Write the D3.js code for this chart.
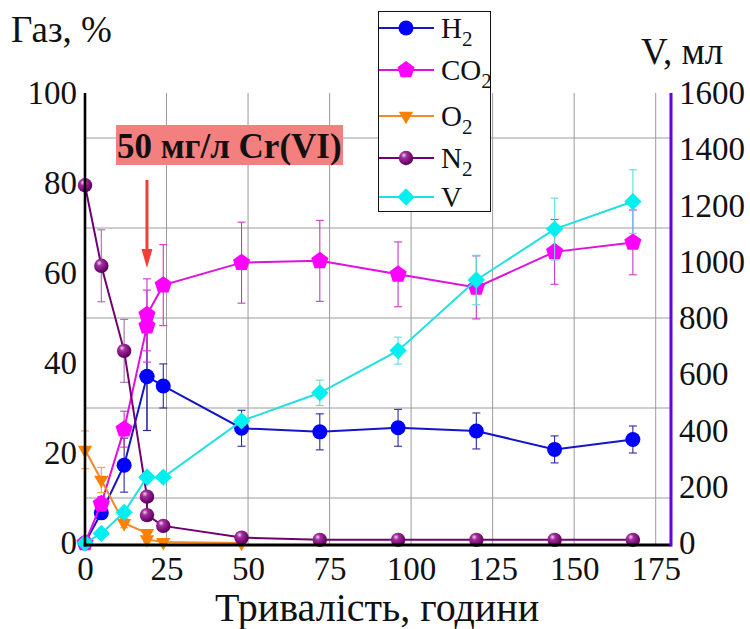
<!DOCTYPE html>
<html>
<head>
<meta charset="utf-8">
<script src="https://cdn.jsdelivr.net/npm/d3@7"></script>
<style>
  html, body { margin: 0; padding: 0; background: #fff; }
  svg { display: block; font-family: "Liberation Serif", "DejaVu Serif", serif; }
</style>
</head>
<body>
<svg id="chart" width="750" height="629"></svg>
<script>
// Sampling times, hours (two samples at 19 h: before and after the Cr(VI) dose)
const times = [0, 5, 12, 19, 19, 24, 48, 72, 96, 120, 144, 168];

// Gas composition, % (null = not measured)
const h2 = [0, 6.7, 17.3, 37.0, 37.0, 34.9, 25.5, 24.7, 25.6, 24.9, 20.8, 23.0];
const h2Err = [0, 1.2, 6, 12, 12, 4.9, 4, 4, 4.1, 4, 3, 3];
const co2 = [0, 8.7, 25.3, 48.2, 50.7, 57.3, 62.3, 62.7, 59.7, 56.8, 64.7, 66.8];
const co2Err = [0, 1.6, 4, 8, 8, 9, 9, 9, 7.2, 7, 7.2, 7.2];
const o2 = [20.7, 14.0, 4.4, 2.2, 0.8, 0.2, 0, null, null, null, null, null];
const o2Err = [4.2, 2.8, 1, 0.8, 0.5, 0, 0, 0, 0, 0, 0, 0];
const n2 = [79.5, 61.6, 42.7, 10.3, 6.2, 3.8, 1.2, 0.7, 0.7, 0.7, 0.7, 0.7];
const n2Err = [0, 8, 7, 1, 1, 0.5, 0.3, 0.3, 0.3, 0.3, 0.3, 0.3];

// Cumulative gas volume, ml
const vol = [0, 34, 109, 234, 234, 234, 434, 534, 684, 935, 1116, 1214];
const volErr = [0, 5, 10, 15, 15, 15, 15, 45, 48, 88, 110, 113];

// Axis ticks
const xTicks = [0, 25, 50, 75, 100, 125, 150, 175];
const xGrid = [25, 50, 75, 100, 125, 150, 175];
const yLeftTicks = [0, 20, 40, 60, 80, 100];
const yGrid = [10, 30, 50, 70, 90];
const yRightTicks = [0, 200, 400, 600, 800, 1000, 1200, 1400, 1600];

const doseTime = 19;
const doseLabel = "50 мг/л Cr(VI)";

const serif = "'Liberation Serif', 'DejaVu Serif', serif";
const svg = d3.select("#chart");

const x = d3.scaleLinear().domain([0, 180]).range([85, 672]);
const yL = d3.scaleLinear().domain([0, 100]).range([543, 93]);
const yR = d3.scaleLinear().domain([0, 1600]).range([543, 93]);

const plotLeft = x(0), plotRight = 671, plotTop = 93, plotBottom = 545;

// sphere gradient for the N2 markers
const defs = svg.append("defs");
const grad = defs.append("radialGradient").attr("id", "sphere")
  .attr("cx", "38%").attr("cy", "35%").attr("r", "65%").attr("fx", "35%").attr("fy", "30%");
grad.append("stop").attr("offset", "0%").attr("stop-color", "#f4d4f0");
grad.append("stop").attr("offset", "30%").attr("stop-color", "#a0309a");
grad.append("stop").attr("offset", "75%").attr("stop-color", "#7a0a78");
grad.append("stop").attr("offset", "100%").attr("stop-color", "#560056");

// grid
const grid = svg.append("g");
grid.selectAll("line.vg").data(xGrid).join("line")
  .attr("x1", d => x(d)).attr("x2", d => x(d))
  .attr("y1", plotTop).attr("y2", plotBottom)
  .attr("stroke", "#9c9c9c").attr("stroke-width", 1);
grid.selectAll("line.hg").data(yGrid).join("line")
  .attr("x1", plotLeft).attr("x2", plotRight)
  .attr("y1", d => yL(d)).attr("y2", d => yL(d))
  .attr("stroke", "#9c9c9c").attr("stroke-width", 1);

// marker shapes
function pentagonPath(r) {
  const pts = d3.range(5).map(i => {
    const a = -Math.PI / 2 + i * 2 * Math.PI / 5;
    return [r * Math.cos(a), r * Math.sin(a)];
  });
  return "M" + pts.map(p => p.join(",")).join("L") + "Z";
}
const markers = {
  circle: sel => sel.append("circle").attr("r", 7.5),
  pentagon: sel => sel.append("path").attr("d", pentagonPath(9)),
  triangle: sel => sel.append("path").attr("d", d3.symbol(d3.symbolTriangle, 90)()).attr("transform", "rotate(180)"),
  sphere: sel => sel.append("circle").attr("r", 7.2).attr("fill", "url(#sphere)"),
  diamond: sel => sel.append("path").attr("d", d3.symbol(d3.symbolSquare, 150)()).attr("transform", "rotate(45)")
};

const series = [
  { base: "H", sub: "2", values: h2, errors: h2Err, y: yL, fill: "#0000ff", line: "#1414c8", err: "#2a2aa0", marker: "circle" },
  { base: "CO", sub: "2", values: co2, errors: co2Err, y: yL, fill: "#ff00ff", line: "#e010e0", err: "#c838c8", marker: "pentagon" },
  { base: "O", sub: "2", values: o2, errors: o2Err, y: yL, fill: "#ff8000", line: "#f08a28", err: "#f0a050", marker: "triangle" },
  { base: "N", sub: "2", values: n2, errors: n2Err, y: yL, fill: "#800080", line: "#700070", err: "#a070a0", marker: "sphere" },
  { base: "V", sub: "", values: vol, errors: volErr, y: yR, fill: "#00f0f0", line: "#20e0e0", err: "#60dcdc", marker: "diamond" }
];

const plot = svg.append("g");
series.forEach(s => {
  const g = plot.append("g");
  const pts = times.map((t, i) => ({ t, v: s.values[i], e: s.errors[i] }))
    .filter(p => p.v != null);
  // error bars
  const eb = g.selectAll("g.eb").data(pts.filter(p => p.e > 0)).join("g")
    .attr("stroke", s.err).attr("stroke-width", 1.1);
  eb.append("line").attr("x1", d => x(d.t)).attr("x2", d => x(d.t))
    .attr("y1", d => s.y(d.v - d.e)).attr("y2", d => s.y(d.v + d.e));
  eb.append("line").attr("x1", d => x(d.t) - 4).attr("x2", d => x(d.t) + 4)
    .attr("y1", d => s.y(d.v - d.e)).attr("y2", d => s.y(d.v - d.e));
  eb.append("line").attr("x1", d => x(d.t) - 4).attr("x2", d => x(d.t) + 4)
    .attr("y1", d => s.y(d.v + d.e)).attr("y2", d => s.y(d.v + d.e));
  // connecting line
  g.append("path").datum(pts)
    .attr("d", d3.line().x(d => x(d.t)).y(d => s.y(d.v)))
    .attr("fill", "none").attr("stroke", s.line).attr("stroke-width", 2);
  // markers
  const m = g.selectAll("g.m").data(pts).join("g")
    .attr("transform", d => `translate(${x(d.t)},${s.y(d.v)})`)
    .attr("fill", s.fill);
  markers[s.marker](m);
});

// axes
const fs = "33px";
const axL = svg.append("g").attr("transform", `translate(${plotLeft},0)`)
  .call(d3.axisLeft(yL).tickValues(yLeftTicks).tickSize(0).tickSizeOuter(0).tickPadding(8));
axL.attr("font-family", serif);
axL.select(".domain").attr("stroke", "#000").attr("stroke-width", 2.6)
  .attr("d", `M0,${plotTop}V${plotBottom + 1.5}`);
axL.selectAll("text").attr("font-size", fs).attr("fill", "#111").attr("font-family", serif);

const axB = svg.append("g").attr("transform", `translate(0,${plotBottom})`)
  .call(d3.axisBottom(x).tickValues(xTicks).tickSize(0).tickSizeOuter(0).tickPadding(12));
axB.attr("font-family", serif);
axB.select(".domain").attr("stroke", "#000").attr("stroke-width", 3)
  .attr("d", `M${plotLeft - 1.3},0H${plotRight}`);
axB.selectAll("text").attr("font-size", fs).attr("fill", "#111").attr("font-family", serif);

const axR = svg.append("g").attr("transform", `translate(${plotRight},0)`)
  .call(d3.axisRight(yR).tickValues(yRightTicks).tickFormat(d3.format("d"))
    .tickSize(0).tickSizeOuter(0).tickPadding(8));
axR.attr("font-family", serif);
axR.select(".domain").attr("stroke", "#6600dd").attr("stroke-width", 3)
  .attr("d", `M0,${plotTop}V${plotBottom + 1.5}`);
axR.selectAll("text").attr("font-size", fs).attr("fill", "#111").attr("font-family", serif);

// axis titles
svg.append("text").attr("x", 11).attr("y", 42).attr("font-size", "37px").attr("fill", "#111")
  .attr("font-family", serif).text("Газ, %");
svg.append("text").attr("x", 641).attr("y", 64).attr("font-size", "37px").attr("fill", "#111")
  .attr("font-family", serif).text("V, мл");
svg.append("text").attr("x", 377).attr("y", 621).attr("text-anchor", "middle")
  .attr("font-size", "40px").attr("fill", "#111").attr("font-family", serif).text("Тривалість, години");

// Cr(VI) dose annotation
const ann = svg.append("g");
ann.append("rect").attr("x", 116).attr("y", 125).attr("width", 227).attr("height", 40).attr("fill", "#f47f7f");
ann.append("text").attr("x", 117).attr("y", 158).attr("font-size", "35px").attr("font-weight", "bold")
  .attr("font-family", serif).attr("fill", "#111").text(doseLabel);
const ax = x(doseTime);
ann.append("line").attr("x1", ax).attr("x2", ax).attr("y1", 180).attr("y2", 252)
  .attr("stroke", "#ee4038").attr("stroke-width", 3);
ann.append("path").attr("d", `M${ax - 5.5},249L${ax + 5.5},249L${ax},268Z`).attr("fill", "#ee4038");

// legend
const lg = svg.append("g");
lg.append("rect").attr("x", 378.5).attr("y", 11.5).attr("width", 112).attr("height", 200)
  .attr("fill", "#fff").attr("stroke", "#111").attr("stroke-width", 1);
const rowY = [28, 70, 116, 158, 197];
series.forEach((s, i) => {
  const g = lg.append("g").attr("transform", `translate(0,${rowY[i]})`);
  g.append("line").attr("x1", 379).attr("x2", 434).attr("y1", 0).attr("y2", 0)
    .attr("stroke", s.line).attr("stroke-width", 2);
  const m = g.append("g").attr("transform", "translate(406,0)").attr("fill", s.fill);
  markers[s.marker](m);
  const t = g.append("text").attr("x", 441).attr("y", 10).attr("font-size", "29px")
    .attr("font-family", serif).attr("fill", "#111");
  t.append("tspan").text(s.base);
  if (s.sub) t.append("tspan").attr("font-size", "21px").attr("dy", 8).text(s.sub);
});
</script>
</body>
</html>
